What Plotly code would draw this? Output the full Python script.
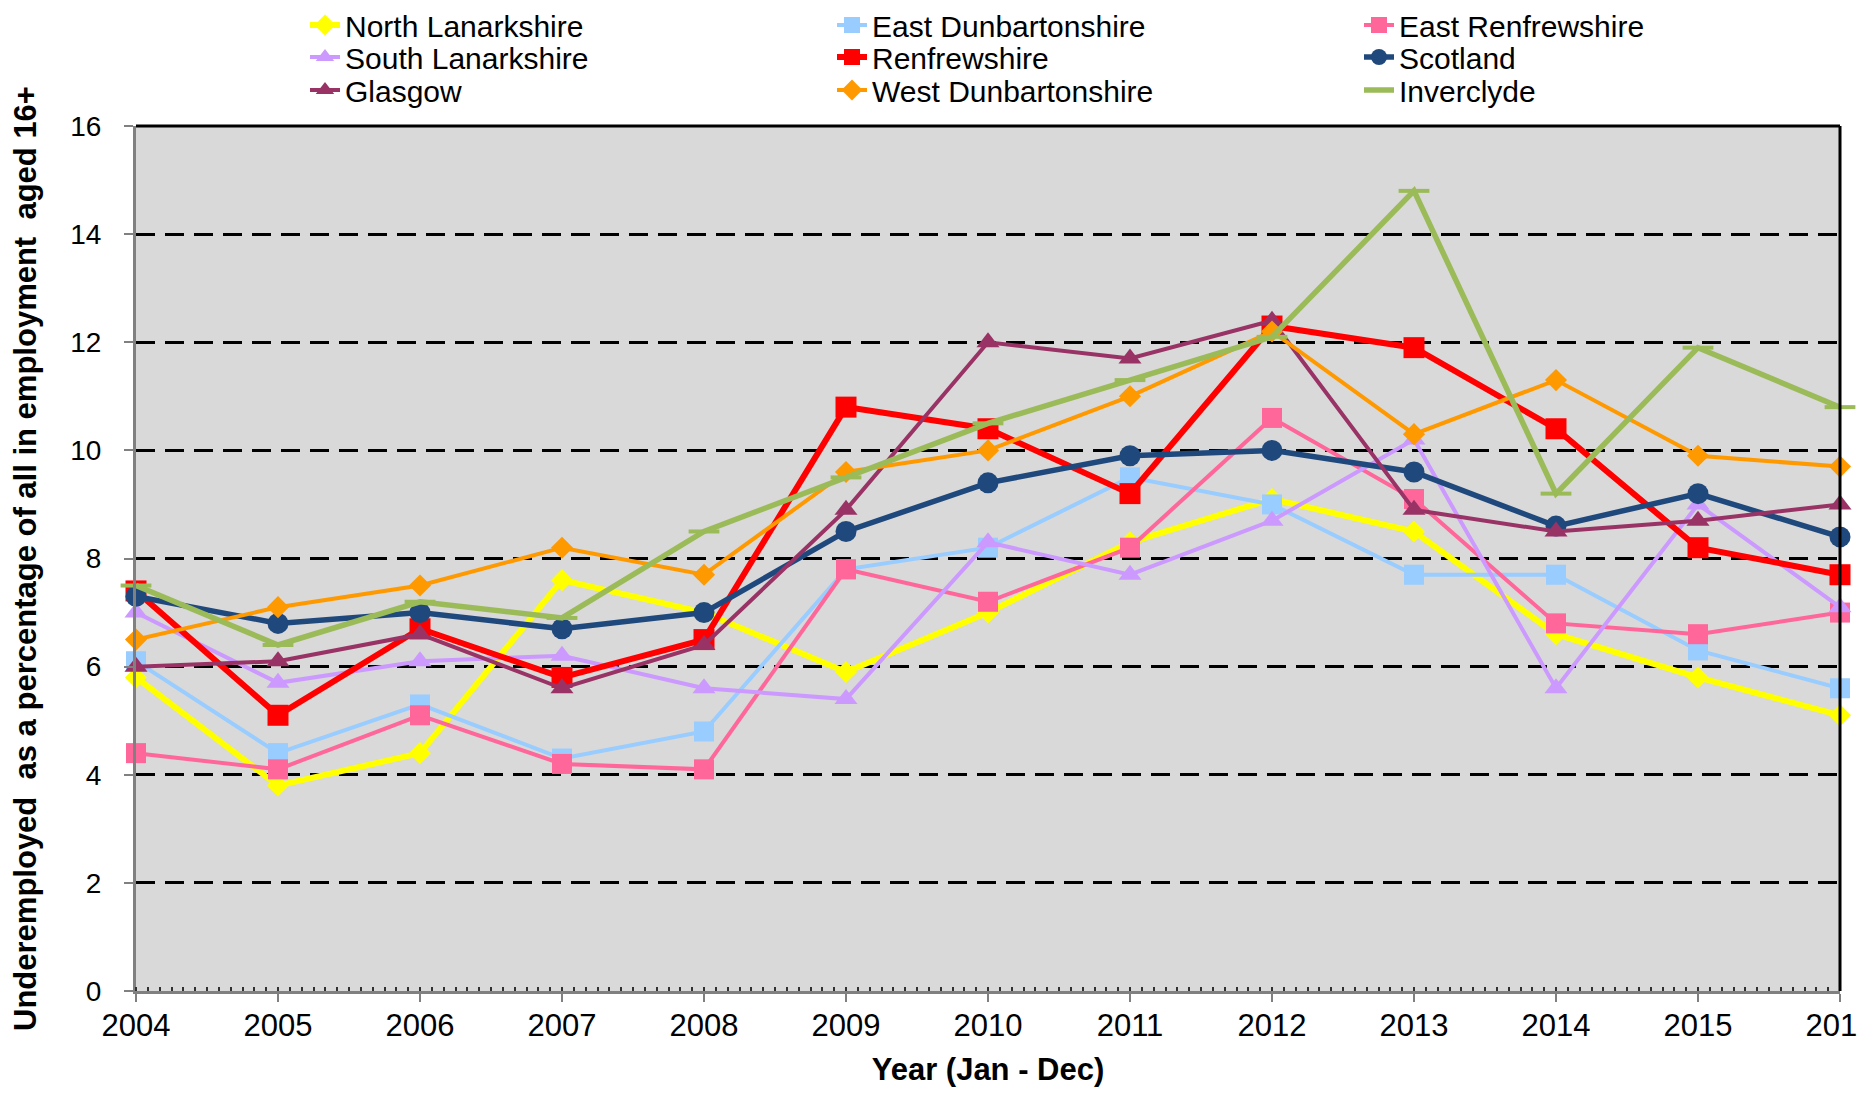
import plotly.graph_objects as go

years = [2004, 2005, 2006, 2007, 2008, 2009, 2010, 2011, 2012, 2013, 2014, 2015, 2016]

north_lanarkshire = [5.8, 3.8, 4.4, 7.6, 7.0, 5.9, 7.0, 8.3, 9.1, 8.5, 6.6, 5.8, 5.1]
east_dunbartonshire = [6.1, 4.4, 5.3, 4.3, 4.8, 7.8, 8.2, 9.5, 9.0, 7.7, 7.7, 6.3, 5.6]
east_renfrewshire = [4.4, 4.1, 5.1, 4.2, 4.1, 7.8, 7.2, 8.2, 10.6, 9.1, 6.8, 6.6, 7.0]
south_lanarkshire = [7.0, 5.7, 6.1, 6.2, 5.6, 5.4, 8.3, 7.7, 8.7, 10.2, 5.6, 9.0, 7.1]
renfrewshire = [7.4, 5.1, 6.7, 5.8, 6.5, 10.8, 10.4, 9.2, 12.3, 11.9, 10.4, 8.2, 7.7]
scotland = [7.3, 6.8, 7.0, 6.7, 7.0, 8.5, 9.4, 9.9, 10.0, 9.6, 8.6, 9.2, 8.4]
glasgow = [6.0, 6.1, 6.6, 5.6, 6.4, 8.9, 12.0, 11.7, 12.4, 8.9, 8.5, 8.7, 9.0]
west_dunbartonshire = [6.5, 7.1, 7.5, 8.2, 7.7, 9.6, 10.0, 11.0, 12.2, 10.3, 11.3, 9.9, 9.7]
inverclyde = [7.5, 6.4, 7.2, 6.9, 8.5, 9.5, 10.5, 11.3, 12.1, 14.8, 9.2, 11.9, 10.8]

y_ticks = [0, 2, 4, 6, 8, 10, 12, 14, 16]

FONT = "Arial, Liberation Sans, sans-serif"

# name, values, colour, symbol, marker size, line width, legend row
series = [
    ("North Lanarkshire", north_lanarkshire, "#FFFF00", "diamond", 17, 6, "legend"),
    ("East Dunbartonshire", east_dunbartonshire, "#99CCFF", "square", 20, 4, "legend"),
    ("East Renfrewshire", east_renfrewshire, "#FF6699", "square", 20, 4, "legend"),
    ("South Lanarkshire", south_lanarkshire, "#CC99FF", "triangle-up", 20, 4, "legend2"),
    ("Renfrewshire", renfrewshire, "#FF0000", "square", 21, 6, "legend2"),
    ("Scotland", scotland, "#1F497D", "circle", 21, 5.5, "legend2"),
    ("Glasgow", glasgow, "#993366", "triangle-up", 20, 4, "legend3"),
    ("West Dunbartonshire", west_dunbartonshire, "#FF9900", "diamond", 17, 4, "legend3"),
    ("Inverclyde", inverclyde, "#9BBB59", "line-ew", 22, 5.5, "legend3"),
]

fig = go.Figure()
for name, vals, color, sym, msize, lw, leg in series:
    marker = dict(symbol=sym, size=msize, color=color)
    if sym == "line-ew":
        marker["line"] = dict(color=color, width=4)
    fig.add_trace(go.Scatter(
        x=years, y=vals, name=name, mode="lines+markers",
        line=dict(color=color, width=lw),
        marker=marker, cliponaxis=False, legend=leg,
    ))

W, H = 1849, 1079
L, R, T, B = 128, 17, 118, 96
plot_h = H - T - B
plot_w = W - L - R

def row_y(center_px):
    return 1 + (T - center_px) / plot_h

leg_common = dict(
    orientation="h", x=(297 - L) / plot_w, xanchor="left", yanchor="middle",
    font=dict(size=30, family=FONT), entrywidth=482, entrywidthmode="pixels",
    bgcolor="rgba(0,0,0,0)",
)

fig.update_layout(
    width=W, height=H,
    paper_bgcolor="white", plot_bgcolor="#D9D9D9",
    margin=dict(l=L, r=R, t=T, b=B, autoexpand=False),
    font=dict(family=FONT, color="black"),
    legend=dict(leg_common, y=row_y(17)),
    legend2=dict(leg_common, y=row_y(49)),
    legend3=dict(leg_common, y=row_y(82)),
    showlegend=True,
)

fig.update_xaxes(
    range=[2004, 2016], tickmode="array", tickvals=years, ticktext=[str(y) for y in years],
    ticks="outside", ticklen=8, tickwidth=2, tickcolor="#808080",
    tickfont=dict(size=31, family=FONT), ticklabelstandoff=-3, ticklabeloverflow="allow",
    showline=True, linecolor="#808080", linewidth=3, showgrid=False, zeroline=False,
    minor=dict(dtick=1/12, tick0=2004, ticks="inside", ticklen=4, tickwidth=1.5,
               tickcolor="#303030", showgrid=False),
    title=dict(text="<b>Year (Jan - Dec)</b>", font=dict(size=31, family=FONT), standoff=23),
)
fig.update_yaxes(
    range=[0, 16], tickmode="array", tickvals=y_ticks,
    ticks="outside", ticklen=9, tickwidth=2, tickcolor="#808080",
    tickfont=dict(size=28, family=FONT), ticklabelstandoff=17,
    showline=True, linecolor="#808080", linewidth=3, zeroline=False,
    showgrid=True, gridcolor="black", gridwidth=3, griddash="19px,10px",
    title=dict(text="<b>Underemployed  as a percentage of all in employment  aged 16+</b>",
               font=dict(size=31, family=FONT), standoff=26),
)

# top and right border lines
fig.add_shape(type="line", xref="x domain", yref="y domain", x0=0, x1=1, y0=1, y1=1,
              line=dict(color="black", width=3))
fig.add_shape(type="line", xref="x domain", yref="y domain", x0=1, x1=1, y0=0, y1=1,
              line=dict(color="black", width=3))

fig.write_html("out.html")
